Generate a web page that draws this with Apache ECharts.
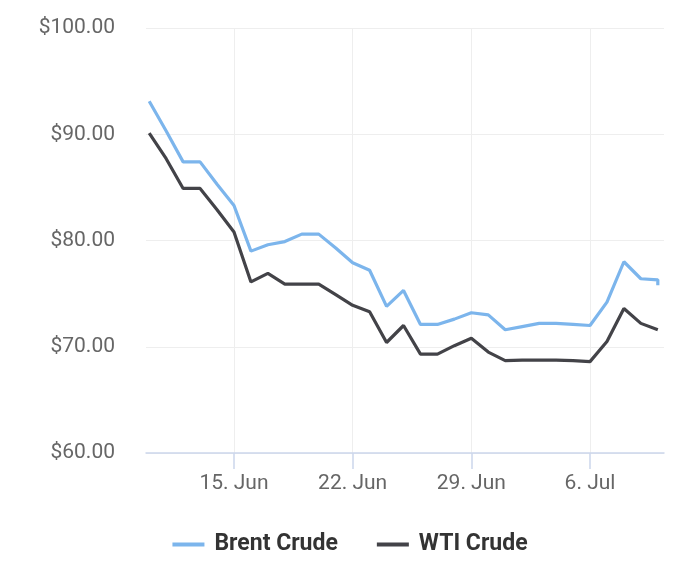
<!DOCTYPE html>
<html>
<head>
<meta charset="utf-8">
<script src="https://cdn.jsdelivr.net/npm/echarts@6/dist/echarts.min.js"></script>
<style>
html,body{margin:0;padding:0;background:#fff;}
#chart{width:700px;height:575px;}
</style>
</head>
<body>
<div id="chart"></div>
<script>
const dates = ['2022-06-10','2022-06-11','2022-06-12','2022-06-13','2022-06-14','2022-06-15','2022-06-16','2022-06-17','2022-06-18','2022-06-19','2022-06-20','2022-06-21','2022-06-22','2022-06-23','2022-06-24','2022-06-25','2022-06-26','2022-06-27','2022-06-28','2022-06-29','2022-06-30','2022-07-01','2022-07-02','2022-07-03','2022-07-04','2022-07-05','2022-07-06','2022-07-07','2022-07-08','2022-07-09','2022-07-10'];
const brent = [93.1,90.3,87.4,87.4,85.3,83.3,79.0,79.6,79.9,80.6,80.6,79.3,77.9,77.2,73.8,75.3,72.1,72.1,72.6,73.2,73.0,71.6,71.9,72.2,72.2,72.1,72.0,74.2,78.0,76.4,76.3];
const brentLast = 75.8;
const wti = [90.1,87.7,84.9,84.9,82.9,80.8,76.1,76.9,75.9,75.9,75.9,74.9,73.9,73.3,70.4,72.0,69.3,69.3,70.1,70.8,69.5,68.7,68.75,68.75,68.75,68.7,68.6,70.5,73.6,72.2,71.6];
const tickDates = ['2022-06-15','2022-06-22','2022-06-29','2022-07-06'];
const tickLabels = ['15. Jun','22. Jun','29. Jun','6. Jul'];
const seriesNames = ['Brent Crude','WTI Crude'];

const DAY = 86400000;
const ts = d => Date.parse(d + 'T00:00:00Z');
const tickTs = tickDates.map(ts);
const brentData = brent.map((v,i)=>[ts(dates[i]), v]);
brentData.push([ts(dates[dates.length-1]), brentLast]);
const wtiData = wti.map((v,i)=>[ts(dates[i]), v]);

const chart = echarts.init(document.getElementById('chart'));
chart.setOption({
  animation: false,
  backgroundColor: '#ffffff',
  textStyle: { fontFamily: 'Roboto' },
  grid: { left: 146, right: 36, top: 28, bottom: 122, containLabel: false },
  legend: {
    data: seriesNames,
    bottom: 14,
    left: 'center',
    icon: 'rect',
    itemWidth: 32,
    itemHeight: 4,
    itemGap: 39,
    textStyle: { fontFamily: 'Roboto', fontSize: 23, fontWeight: 'bold', color: '#333333', padding: [0,0,0,5] }
  },
  xAxis: {
    type: 'value',
    min: tickTs[0] - 5.19 * DAY,
    max: tickTs[3] + 4.365 * DAY,
    axisLine: { show: true, lineStyle: { color: '#ccd6eb', width: 1.5 } },
    axisTick: { show: true, length: 16, customValues: tickTs, lineStyle: { color: '#ccd6eb', width: 1.5 } },
    axisLabel: {
      customValues: tickTs,
      margin: 20,
      fontSize: 21,
      color: '#666666',
      fontFamily: 'Roboto',
      formatter: v => { const i = tickTs.indexOf(v); return i >= 0 ? tickLabels[i] : ''; }
    },
    splitLine: { show: true, lineStyle: { color: '#eeeeee', width: 1 } }
  },
  yAxis: {
    type: 'value',
    min: 60,
    max: 100,
    interval: 10,
    axisLine: { show: false },
    axisTick: { show: false },
    axisLabel: { fontSize: 21, color: '#666666', fontFamily: 'Roboto', margin: 31, formatter: v => '$' + v.toFixed(2) },
    splitLine: { show: true, lineStyle: { color: '#eeeeee', width: 1 } }
  },
  series: [
    { name: seriesNames[0], type: 'line', data: brentData, showSymbol: false, symbol: 'none',
      lineStyle: { color: '#7cb5ec', width: 3.2 }, itemStyle: { color: '#7cb5ec' }, z: 3 },
    { name: seriesNames[1], type: 'line', data: wtiData, showSymbol: false, symbol: 'none',
      lineStyle: { color: '#434348', width: 3.2 }, itemStyle: { color: '#434348' }, z: 2 }
  ]
});
</script>
</body>
</html>
